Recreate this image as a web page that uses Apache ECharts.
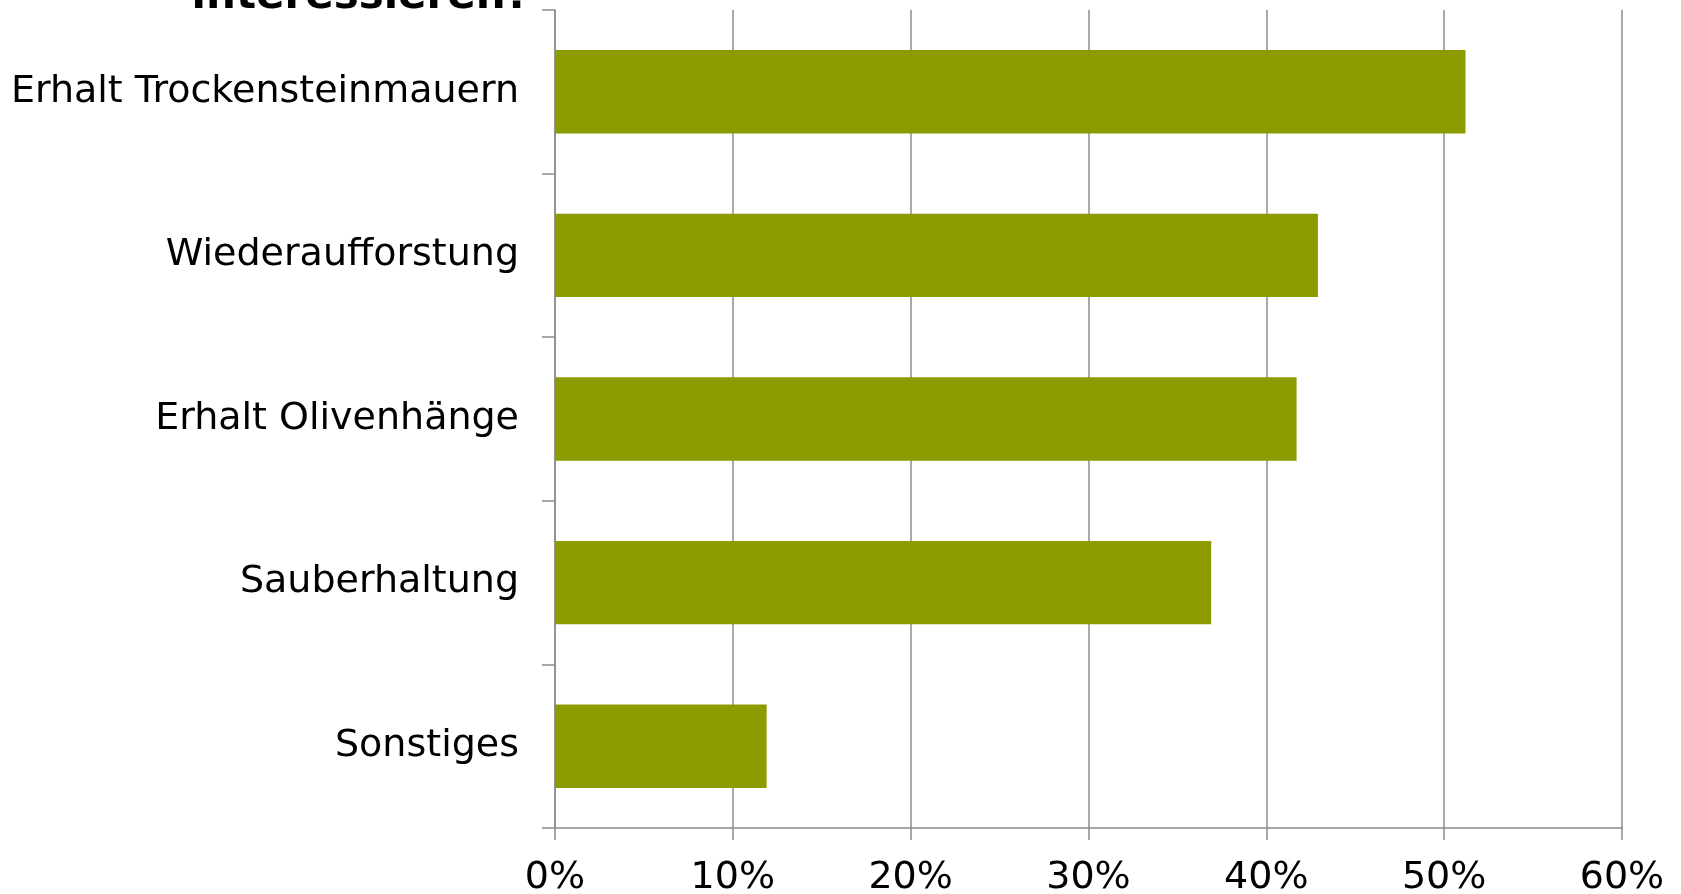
<!DOCTYPE html>
<html>
<head>
<meta charset="utf-8">
<script src="https://cdn.jsdelivr.net/npm/echarts@6/dist/echarts.min.js"></script>
<style>
html,body{margin:0;padding:0;background:#fff;}
#chart{width:1681px;height:894px;}
</style>
</head>
<body>
<div id="chart"></div>
<script>
const titleText = "interessieren?";
const categories = ["Erhalt Trockensteinmauern", "Wiederaufforstung", "Erhalt Olivenhänge", "Sauberhaltung", "Sonstiges"];
const values = [51.2, 42.9, 41.7, 36.9, 11.9];
const xTicks = { min: 0, max: 60, interval: 10 };

const chart = echarts.init(document.getElementById('chart'));
chart.setOption({
  animation: false,
  backgroundColor: '#ffffff',
  grid: { left: 555, right: 59, top: 10, bottom: 66, containLabel: false, outerBoundsMode: 'none' },
  graphic: [{
    type: 'text',
    x: 530, y: 18,
    style: {
      text: titleText,
      fontFamily: 'DejaVu Sans',
      fontWeight: 'bold',
      fontSize: 42,
      fill: '#000',
      align: 'right',
      verticalAlign: 'bottom'
    }
  }],
  xAxis: {
    type: 'value',
    min: xTicks.min, max: xTicks.max, interval: xTicks.interval,
    axisLine: { show: true, lineStyle: { color: '#8c8c8c', width: 1.5 } },
    axisTick: { show: true, length: 12, lineStyle: { color: '#8c8c8c', width: 1.5 } },
    splitLine: { show: true, lineStyle: { color: '#8c8c8c', width: 1.5 } },
    axisLabel: {
      formatter: '{value}%',
      fontFamily: 'DejaVu Sans',
      fontSize: 38,
      color: '#000',
      margin: 31
    }
  },
  yAxis: {
    type: 'category',
    data: categories,
    inverse: true,
    axisLine: { show: true, lineStyle: { color: '#8c8c8c', width: 1.5 } },
    axisTick: { show: true, length: 13, lineStyle: { color: '#8c8c8c', width: 1.5 } },
    axisLabel: {
      fontFamily: 'DejaVu Sans',
      fontSize: 38,
      color: '#000',
      margin: 36
    }
  },
  series: [{
    type: 'bar',
    data: values,
    barCategoryGap: '49%',
    itemStyle: { color: '#8c9b00' }
  }]
});
</script>
</body>
</html>
